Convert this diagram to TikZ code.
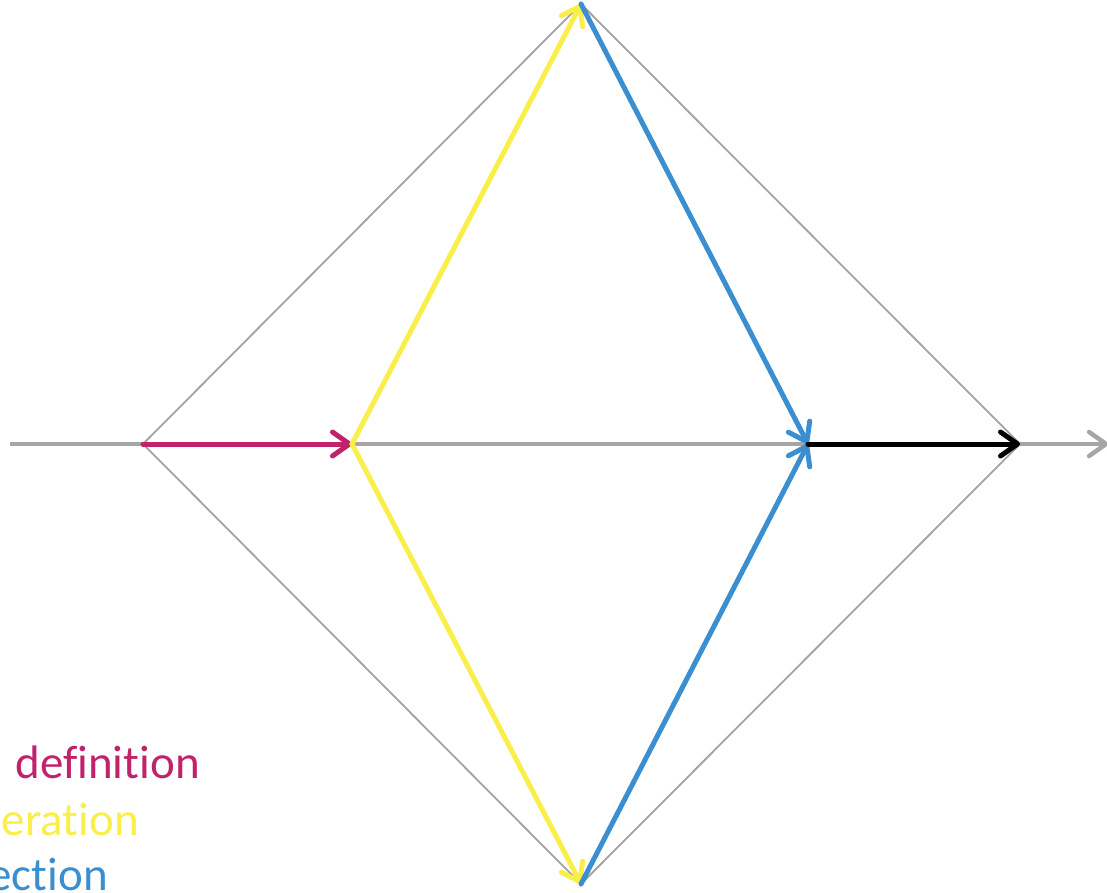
\documentclass[tikz,border=0pt]{standalone}
\usepackage{fontspec}
\setmainfont[Ligatures={NoCommon}]{Carlito}
\usetikzlibrary{arrows.meta}
\definecolor{cmag}{HTML}{C0236A}
\definecolor{cyel}{HTML}{FAEE4A}
\definecolor{cblue}{HTML}{3B8FD0}
\definecolor{caxis}{HTML}{A6A6A6}
\definecolor{cthin}{HTML}{A3A3A3}
\tikzset{
  axisline/.style={draw=caxis, line width=4.5pt, -{Straight Barb[length=17pt,width=24pt,line cap=round]}},
  thinline/.style={draw=cthin, line width=1.8pt},
  vecarrow/.style={line width=5pt, line cap=round, -{Straight Barb[length=17pt,width=24pt,line cap=round,line join=round]}},
  lbl/.style={font=\fontsize{47}{56}\selectfont, anchor=base east, inner sep=0pt}
}
\begin{document}
\begin{tikzpicture}[x=1pt,y=-1pt]
\useasboundingbox (0,0) rectangle (1107,892);
\coordinate (L) at (10,444);
\coordinate (R) at (1110,444);
\coordinate (A) at (143,444);
\coordinate (B) at (352,444);
\coordinate (T) at (581,4);
\coordinate (Bt) at (581,884);
\coordinate (C) at (808,444);
\coordinate (D) at (1020,444);
% axis
\draw[axisline] (L) -- (R);
% diamond
\draw[thinline] (A) -- (T) -- (D) -- (Bt) -- cycle;
% arrows
\draw[vecarrow, cmag] (A) -- (B);
\draw[vecarrow, cyel] (B) -- (T);
\draw[vecarrow, cyel] (B) -- (Bt);
\draw[vecarrow, cblue] (T) -- (C);
\draw[vecarrow, cblue] (Bt) -- (C);
\draw[vecarrow, black] (C) -- (D);
% labels
\node[lbl, text=cmag] (l1) at (200,778) {definition};
\node[lbl, text=cyel] (l2) at (139,835) {eration};
\node[lbl, text=cblue] (l3) at (108,890) {ection};
\end{tikzpicture}
\end{document}
